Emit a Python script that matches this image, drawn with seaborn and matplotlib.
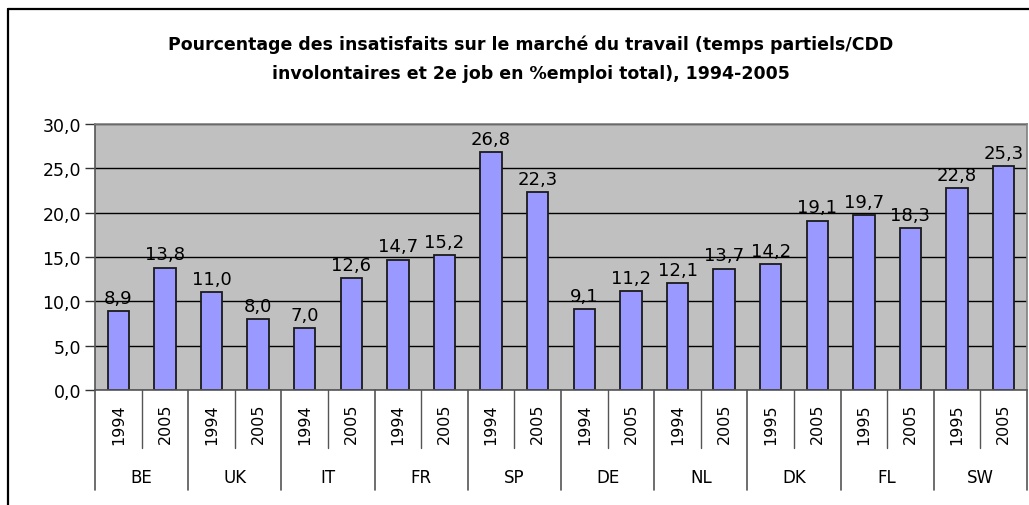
import matplotlib
matplotlib.use("Agg")
import matplotlib.pyplot as plt
import matplotlib.transforms as mtransforms
from matplotlib.lines import Line2D
import seaborn as sns
import pandas as pd

countries = ["BE", "UK", "IT", "FR", "SP", "DE", "NL", "DK", "FL", "SW"]
years_first = ["1994", "1994", "1994", "1994", "1994", "1994", "1994", "1995", "1995", "1995"]
years_second = ["2005"] * 10
values_first = [8.9, 11.0, 7.0, 14.7, 26.8, 9.1, 12.1, 14.2, 19.7, 22.8]
values_second = [13.8, 8.0, 12.6, 15.2, 22.3, 11.2, 13.7, 19.1, 18.3, 25.3]
title = ("Pourcentage des insatisfaits sur le marché du travail (temps partiels/CDD\n"
         "involontaires et 2e job en %emploi total), 1994-2005")

rows = []
for c, y1, y2, v1, v2 in zip(countries, years_first, years_second, values_first, values_second):
    rows.append({"key": f"{c}-{y1}", "country": c, "year": y1, "value": v1})
    rows.append({"key": f"{c}-{y2}", "country": c, "year": y2, "value": v2})
df = pd.DataFrame(rows)

sns.set_theme(style="white")
plt.rcParams["font.family"] = ["DejaVu Sans"]
plt.rcParams["text.color"] = "black"
plt.rcParams["ytick.color"] = "black"
plt.rcParams["xtick.color"] = "black"

W, H = 1029, 506
fig = plt.figure(figsize=(W / 100, H / 100), dpi=100)
ax = fig.add_axes([95 / W, 1 - 391 / H, (1027 - 95) / W, (391 - 125) / H])

sns.barplot(data=df, x="key", y="value", order=list(df["key"]), color="#9999FF",
            saturation=1, edgecolor="#1a1a1a", linewidth=1.3, width=0.455, ax=ax)

ax.set_facecolor("#C0C0C0")
ax.set_xlim(-0.5, len(df) - 0.5)
ax.set_ylim(0, 30)
ax.set_yticks([0, 5, 10, 15, 20, 25, 30])
ax.set_yticklabels([f"{t:.1f}".replace(".", ",") for t in [0, 5, 10, 15, 20, 25, 30]], fontsize=12.5)
ax.yaxis.grid(True, color="black", linewidth=1.0)
ax.set_axisbelow(True)
ax.tick_params(axis="y", direction="out", length=7, width=1, color="#333333", pad=3, left=True,
               labelcolor="black")
ax.tick_params(axis="x", bottom=False, labelbottom=False)
ax.set_xlabel("")
ax.set_ylabel("")
for s in ["top", "right"]:
    ax.spines[s].set_color("#808080")
    ax.spines[s].set_linewidth(1.2)
ax.spines["left"].set_color("#555555")
ax.spines["bottom"].set_color("#555555")
ax.spines["left"].set_linewidth(1.2)
ax.spines["bottom"].set_linewidth(1.2)

# data labels
for i, v in enumerate(df["value"]):
    ax.annotate(f"{v:.1f}".replace(".", ","), (i, v), xytext=(0, 3), textcoords="offset points",
                ha="center", va="bottom", fontsize=13, color="black")

# two-level category axis
trans = mtransforms.blended_transform_factory(ax.transData, ax.transAxes)
px = 1 / (391 - 125)  # one pixel in axes fraction (vertical)
for i, yr in enumerate(df["year"]):
    ax.text(i, -13 * px, yr, rotation=90, ha="center", va="top", fontsize=11.5,
            transform=trans, clip_on=False, color="black")
for k in range(len(countries) + 1):
    x = 2 * k - 0.5
    ax.add_line(Line2D([x, x], [0, -100 * px], transform=trans, color="#555555",
                       linewidth=1.2, clip_on=False))
for k in range(len(countries)):
    x = 2 * k + 0.5
    ax.add_line(Line2D([x, x], [0, -58 * px], transform=trans, color="#555555",
                       linewidth=1.0, clip_on=False))
    ax.text(2 * k + 0.5, -87 * px, countries[k], ha="center", va="center", fontsize=12,
            transform=trans, clip_on=False, color="black")

# title
fig.text(531 / W, 1 - 59 / H, title, ha="center", va="center", fontsize=12.5,
         fontweight="bold", linespacing=1.8, color="black")

# chart area border (left and top)
fig.add_artist(Line2D([7.5 / W, 7.5 / W], [0, 1 - 10 / H], transform=fig.transFigure,
                      color="black", linewidth=1.6))
fig.add_artist(Line2D([7.5 / W, 1], [1 - 10 / H, 1 - 10 / H], transform=fig.transFigure,
                      color="black", linewidth=1.6))

fig.savefig("out.png", dpi=100, facecolor="white")
